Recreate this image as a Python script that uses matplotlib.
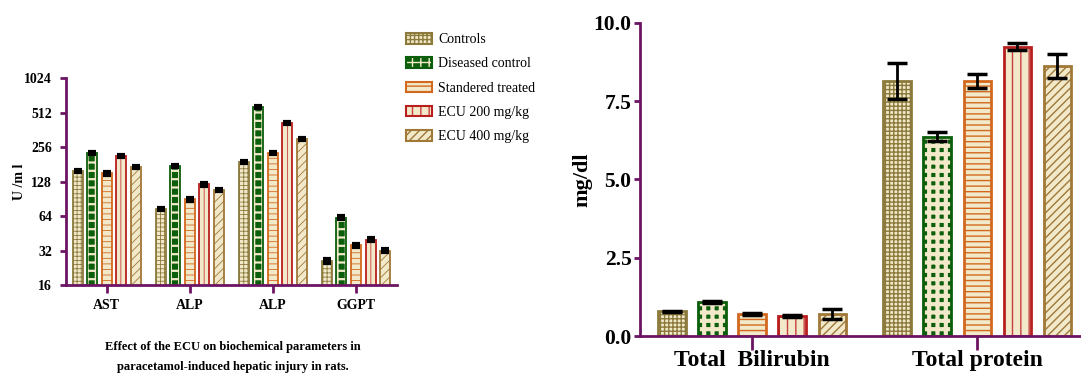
import matplotlib
matplotlib.use("Agg")
import matplotlib.pyplot as plt
import matplotlib.patches as mpatches
from matplotlib.legend_handler import HandlerTuple
import numpy as np

plt.rcParams['font.family'] = ['Liberation Serif', 'DejaVu Serif']

# ---- data ----
groups = ["Controls", "Diseased control", "Standered treated", "ECU 200 mg/kg", "ECU 400 mg/kg"]

enz_params = ["AST", "ALP", "ALP", "GGPT"]
enz_controls = [158, 74, 189, 26]
enz_diseased = [226, 175, 576, 62]
enz_standard = [151, 89.5, 228, 35.5]
enz_ecu200 = [215, 121, 413, 39.7]
enz_ecu400 = [172, 108, 299, 31.9]

prot_params = ["Total  Bilirubin", "Total protein"]
prot_controls = [0.79, 8.15]
prot_diseased = [1.09, 6.37]
prot_standard = [0.70, 8.15]
prot_ecu200 = [0.64, 9.24]
prot_ecu400 = [0.70, 8.63]
prot_err_controls = [0.02, 0.58]
prot_err_diseased = [0.03, 0.14]
prot_err_standard = [0.03, 0.22]
prot_err_ecu200 = [0.02, 0.11]
prot_err_ecu400 = [0.16, 0.39]

cream = '#F1E9C9'
purple = '#6C1464'
# (face, edge, hatch colour, hatch)
styles = [
    (cream, '#8C7A3C', '#8C7A3C', '++++'),
    ('#0B5E0B', '#0B5E0B', cream, '++'),
    (cream, '#D2691E', '#D2691E', '---'),
    (cream, '#B81E1E', '#C84040', '||'),
    (cream, '#A07838', '#A07838', '////'),
]


def hatched_bars(ax, x, h, style, width, lw, hatch_lw):
    face, edge, hcol, hatch = style
    ax.bar(x, h, width, color=face, linewidth=0, zorder=2)
    with plt.rc_context({'hatch.linewidth': hatch_lw}):
        ax.bar(x, h, width, facecolor='none', edgecolor=hcol, hatch=hatch,
               linewidth=0, zorder=3)
    ax.bar(x, h, width, facecolor='none', edgecolor=edge, linewidth=lw, zorder=4)


def style_axes(ax):
    for s in ['top', 'right']:
        ax.spines[s].set_visible(False)
    for s in ['left', 'bottom']:
        ax.spines[s].set_color(purple)
        ax.spines[s].set_linewidth(2)
        ax.spines[s].set_zorder(5)
    ax.tick_params(axis='both', colors=purple, width=2, labelcolor='black')


fig = plt.figure(figsize=(10.81, 3.74), dpi=100)

# ---- left: enzymes (log2 scale) ----
ax1 = fig.add_axes([0.061, 0.238, 0.306, 0.553])
x = np.arange(len(enz_params))
step, width = 0.175, 0.12
enz_series = [enz_controls, enz_diseased, enz_standard, enz_ecu200, enz_ecu400]
for i, vals in enumerate(enz_series):
    xi = x + (i - 2) * step
    hatched_bars(ax1, xi, vals, styles[i], width, 1.3, 0.6 if i != 1 else 1.6)
    err = [v * 0.02 + 0.5 for v in vals]
    ax1.errorbar(xi, vals, yerr=err, fmt='none', ecolor='black', elinewidth=1,
                 capsize=3, capthick=3, zorder=6)
ax1.set_yscale('log', base=2)
ax1.set_ylim(16, 1024)
ax1.set_yticks([16, 32, 64, 128, 256, 512, 1024])
ax1.set_yticklabels(['16', '32', '64', '128', '256', '512', '1024'])
ax1.minorticks_off()
ax1.set_xlim(-0.49, 3.49)
ax1.set_xticks(x)
ax1.set_xticklabels(enz_params)
style_axes(ax1)
ax1.tick_params(axis='y', length=4, labelsize=10, pad=6)
ax1.tick_params(axis='x', length=6, labelsize=10, pad=4)
for t in ax1.get_xticklabels() + ax1.get_yticklabels():
    t.set_fontweight('bold')
ax1.set_ylabel('U /m l', fontsize=10, fontweight='bold', labelpad=-1)

fig.text(0.215, 0.072, 'Effect of the ECU on biochemical parameters in',
         ha='center', va='center', fontsize=9, fontweight='bold')
fig.text(0.215, 0.018, 'paracetamol-induced hepatic injury in rats.',
         ha='center', va='center', fontsize=9, fontweight='bold')

# ---- legend ----
handles = []
for i, g in enumerate(groups):
    face, edge, hcol, hatch = styles[i]
    hw = 1.6 if i == 1 else 0.6
    with plt.rc_context({'hatch.linewidth': hw}):
        hp = mpatches.Patch(facecolor='none', edgecolor=hcol, hatch=hatch, linewidth=0)
    handles.append((mpatches.Patch(facecolor=face, linewidth=0), hp,
                    mpatches.Patch(facecolor='none', edgecolor=edge, linewidth=1.5)))
leg = fig.legend(handles=handles, labels=groups, loc='upper left',
                 bbox_to_anchor=(0.364, 0.945),
                 handler_map={tuple: HandlerTuple(ndivide=1, pad=0)},
                 frameon=False, fontsize=10, handlelength=1.9, handleheight=0.8,
                 labelspacing=0.8, handletextpad=0.4)

# ---- right: bilirubin / protein ----
ax2 = fig.add_axes([0.592, 0.1016, 0.41, 0.837])
x2 = np.arange(len(prot_params))
prot_series = [prot_controls, prot_diseased, prot_standard, prot_ecu200, prot_ecu400]
prot_errs = [prot_err_controls, prot_err_diseased, prot_err_standard,
             prot_err_ecu200, prot_err_ecu400]
step2, width2 = 0.178, 0.122
for i, vals in enumerate(prot_series):
    xi = x2 + (i - 2) * step2
    hatched_bars(ax2, xi, vals, styles[i], width2, 2, 1.0 if i != 1 else 3.0)
    ax2.errorbar(xi, vals, yerr=prot_errs[i], fmt='none', ecolor='black',
                 elinewidth=2, capsize=7, capthick=2.5, zorder=6)
ax2.set_ylim(0, 10)
ax2.set_yticks([0, 2.5, 5.0, 7.5, 10.0])
ax2.set_yticklabels(['0.0', '2.5', '5.0', '7.5', '10.0'])
ax2.set_xlim(-0.498, 1.47)
ax2.set_xticks(x2)
ax2.set_xticklabels(prot_params)
style_axes(ax2)
ax2.tick_params(axis='y', length=4, labelsize=15.5, pad=2)
ax2.tick_params(axis='x', length=10, labelsize=17, pad=0)
for t in ax2.get_xticklabels() + ax2.get_yticklabels():
    t.set_fontweight('bold')
ax2.set_ylabel('mg/dl', fontsize=16, fontweight='bold', labelpad=1)

fig.savefig('out.png', dpi=100)
